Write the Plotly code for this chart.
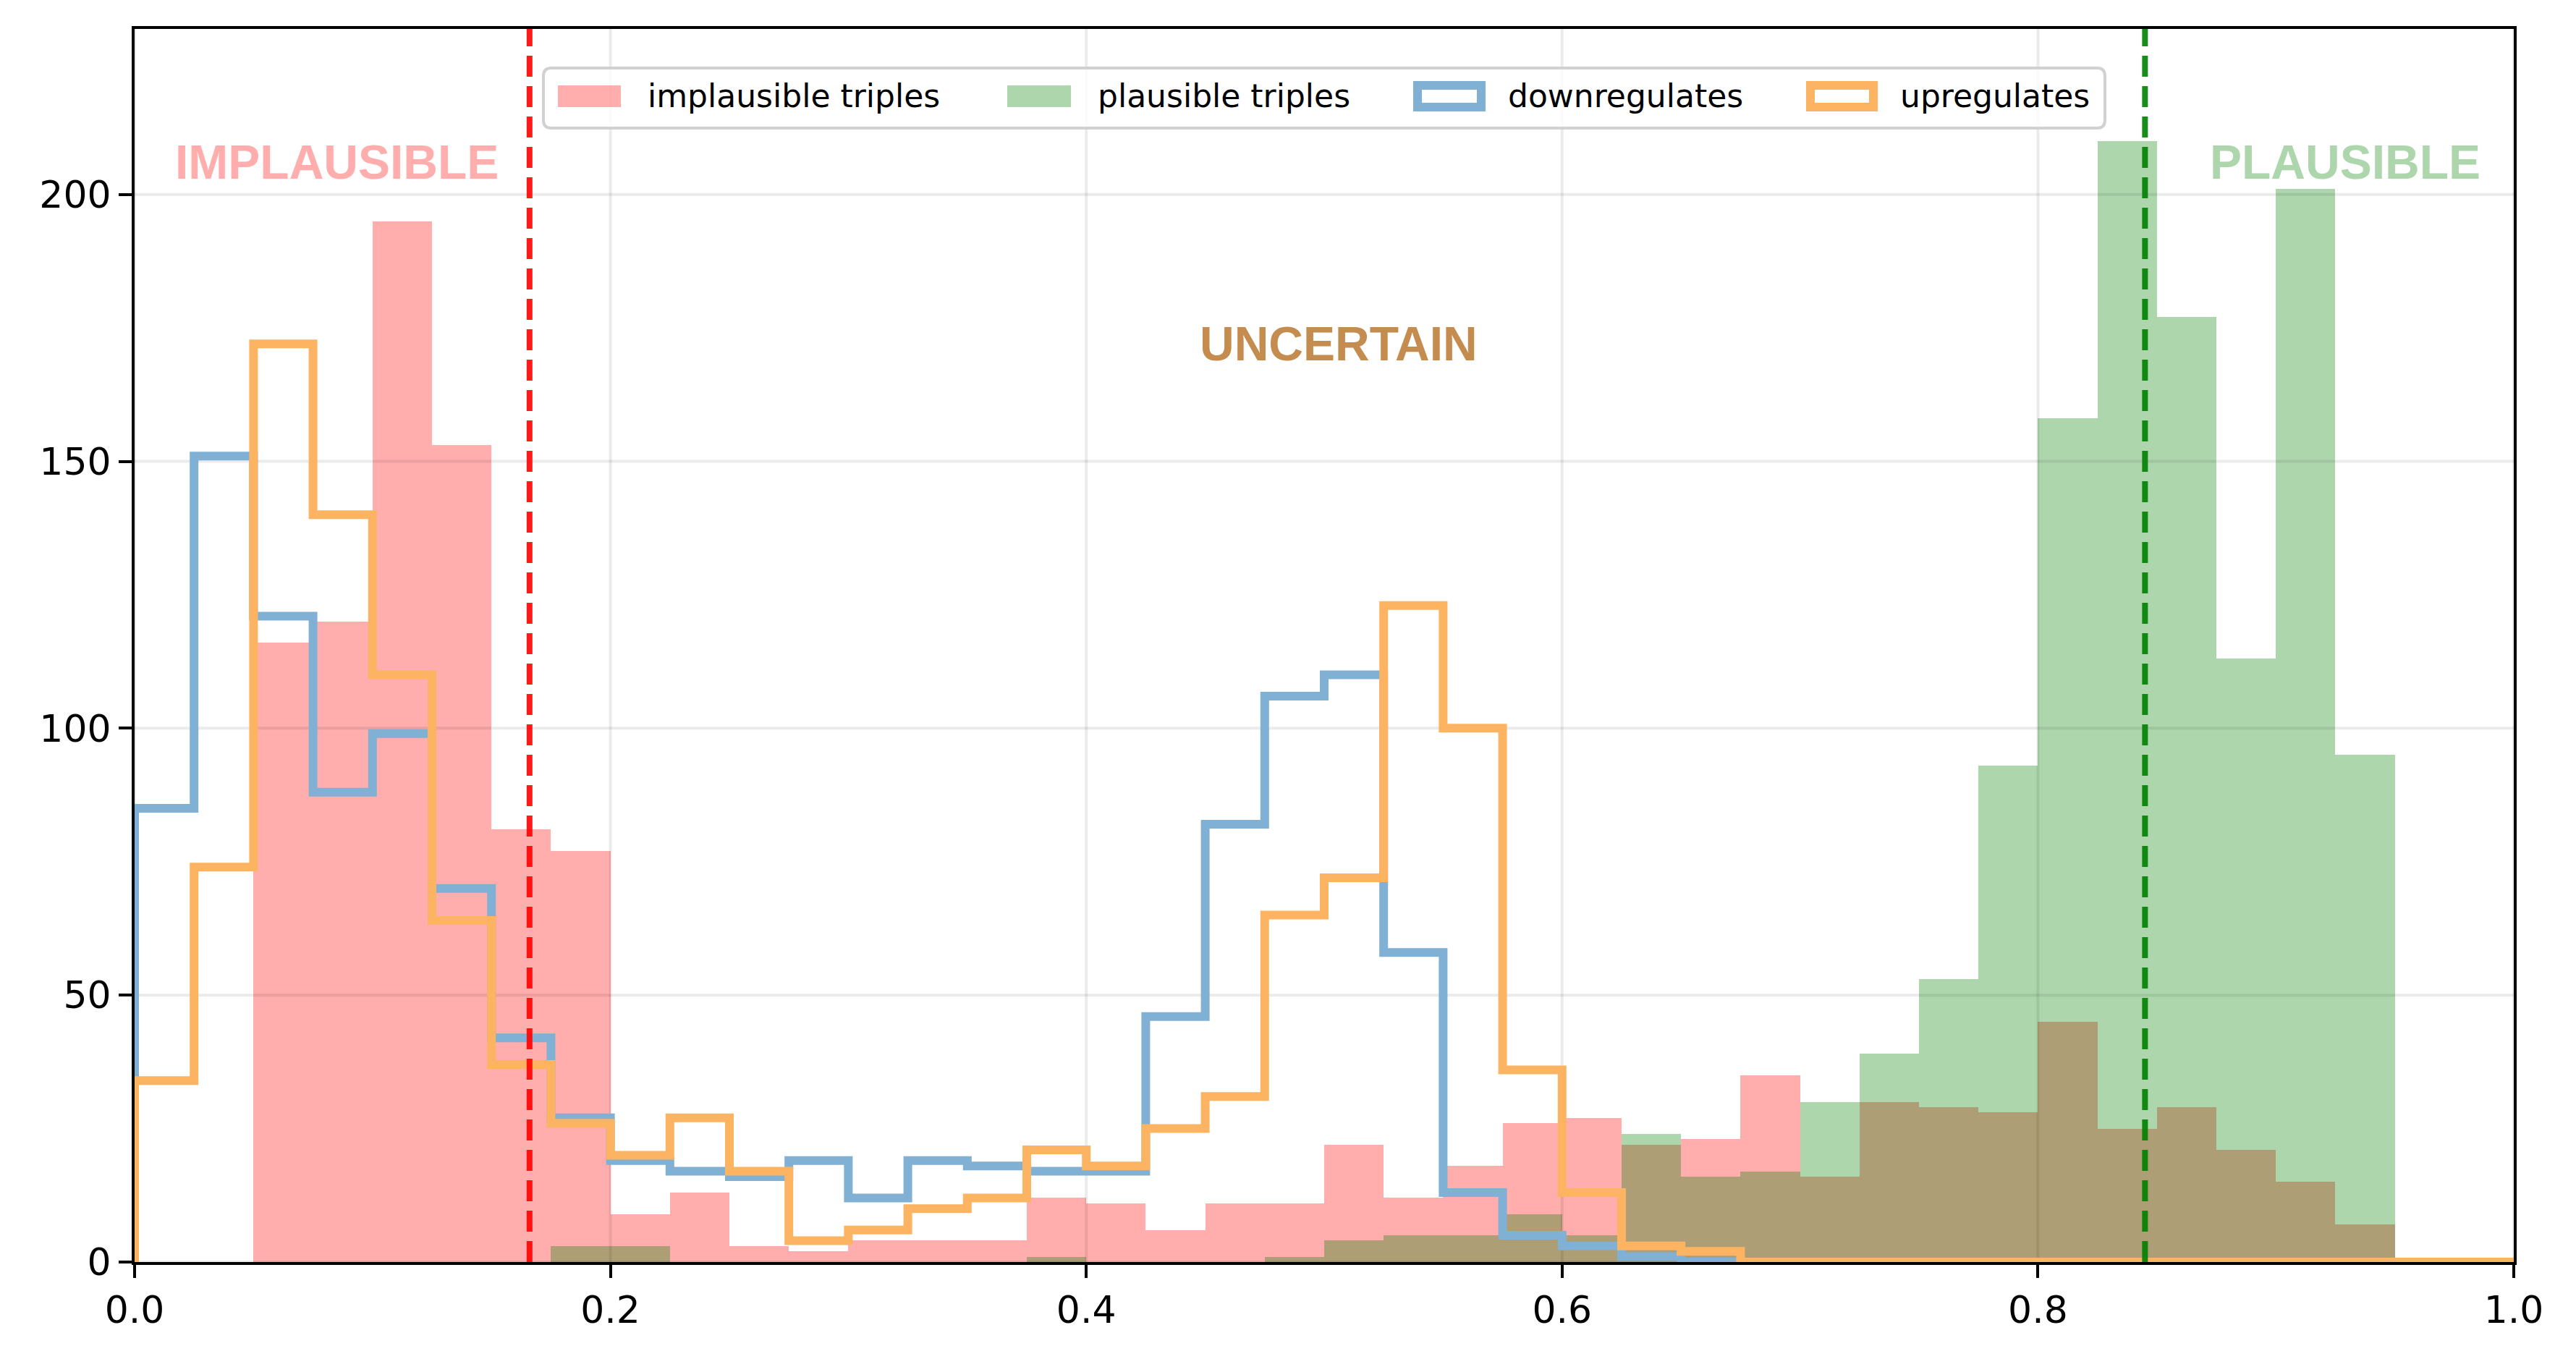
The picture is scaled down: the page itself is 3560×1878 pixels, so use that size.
import plotly.graph_objects as go

# ---------------- data ----------------
bin_width = 0.025
bin_edges = [round(i * bin_width, 3) for i in range(41)]  # 0.0 .. 1.0

implausible_triples = [0, 0, 116, 120, 195, 153, 81, 77, 9, 13,
                       3, 2, 4, 4, 4, 12, 11, 6, 11, 11,
                       22, 12, 18, 26, 27, 22, 23, 35, 16, 30,
                       29, 28, 45, 25, 29, 21, 15, 7, 0, 0]
plausible_triples = [0, 0, 0, 0, 0, 0, 0, 3, 3, 0,
                     0, 0, 0, 0, 0, 1, 0, 0, 0, 1,
                     4, 5, 5, 9, 5, 24, 16, 17, 30, 39,
                     53, 93, 158, 210, 177, 113, 201, 95, 0, 0]
downregulates = [85, 151, 121, 88, 99, 70, 42, 27, 19, 17,
                 16, 19, 12, 19, 18, 17, 17, 46, 82, 106,
                 110, 58, 13, 5, 3, 1, 0, 0, 0, 0,
                 0, 0, 0, 0, 0, 0, 0, 0, 0, 0]
upregulates = [34, 74, 172, 140, 110, 64, 37, 26, 20, 27,
               17, 4, 6, 10, 12, 21, 18, 25, 31, 65,
               72, 123, 100, 36, 13, 3, 2, 0, 0, 0,
               0, 0, 0, 0, 0, 0, 0, 0, 0, 0]

legend_labels = ["implausible triples", "plausible triples", "downregulates", "upregulates"]
x_ticks = [0.0, 0.2, 0.4, 0.6, 0.8, 1.0]
x_tick_labels = ["0.0", "0.2", "0.4", "0.6", "0.8", "1.0"]
y_ticks = [0, 50, 100, 150, 200]
y_tick_labels = ["0", "50", "100", "150", "200"]
implausible_threshold = 0.166
plausible_threshold = 0.845
region_labels = ["IMPLAUSIBLE", "UNCERTAIN", "PLAUSIBLE"]
region_label_x = [0.085, 0.506, 0.929]
region_label_y = [206, 172, 206]
y_max = 231

# ---------------- styles ----------------
W, H = 3560, 1878
ML, MR, MT, MB = 186, 86, 40, 134
PW, PH = W - ML - MR, H - MT - MB

RED_FILL = "rgba(255,0,0,0.32)"
GREEN_FILL = "rgba(0,128,0,0.32)"
BLUE_LINE = "#80B0D3"
ORANGE_LINE = "#FDB462"
LW = 12
TICK_FONT = dict(family="DejaVu Sans", size=52, color="black")
LEG_FONT = dict(family="DejaVu Sans", size=44, color="black")
REGION_COLORS = ["#FFADAD", "#C48C4E", "#ADD6AD"]


def px_x(p):
    return (p - ML) / PW


def px_y(p):
    return (H - MB - p) / PH


centers = [bin_edges[i] + bin_width / 2 for i in range(len(bin_edges) - 1)]

fig = go.Figure()
fig.add_trace(go.Bar(x=centers, y=implausible_triples, width=bin_width,
                     marker=dict(color=RED_FILL, line=dict(width=0)),
                     name=legend_labels[0], showlegend=False, hoverinfo="x+y"))
fig.add_trace(go.Bar(x=centers, y=plausible_triples, width=bin_width,
                     marker=dict(color=GREEN_FILL, line=dict(width=0)),
                     name=legend_labels[1], showlegend=False, hoverinfo="x+y"))

# grid lines drawn above the bars (as in matplotlib) but below the step lines
gx, gy = [], []
for t in x_ticks:
    gx += [t, t, None]
    gy += [0, y_max, None]
for t in y_ticks:
    gx += [0, 1, None]
    gy += [t, t, None]
fig.add_trace(go.Scatter(x=gx, y=gy, mode="lines", line=dict(color="rgba(0,0,0,0.08)", width=4),
                         hoverinfo="skip", showlegend=False))


def step_xy(vals):
    xs = [bin_edges[0]] + bin_edges[:-1] + [bin_edges[-1], bin_edges[-1]]
    ys = [0] + list(vals) + [vals[-1], 0]
    return xs, ys


for vals, col, name in [(downregulates, BLUE_LINE, legend_labels[2]),
                        (upregulates, ORANGE_LINE, legend_labels[3])]:
    xs, ys = step_xy(vals)
    fig.add_trace(go.Scatter(x=xs, y=ys, mode="lines", line=dict(color=col, width=LW, shape="hv"),
                             name=name, showlegend=False))

shapes = []
# threshold lines
for xv, col in [(implausible_threshold, "rgba(255,0,0,0.9)"), (plausible_threshold, "rgba(0,128,0,0.9)")]:
    shapes.append(dict(type="line", xref="x", yref="paper", x0=xv, x1=xv, y0=0, y1=1,
                       line=dict(color=col, width=8, dash="29px,13px"), layer="above"))

# custom legend box (rounded)
bx0, bx1, by0, by1 = px_x(751), px_x(2909), px_y(177), px_y(94)
rx, ry = 11 / PW, 11 / PH
path = (f"M {bx0+rx},{by1} L {bx1-rx},{by1} Q {bx1},{by1} {bx1},{by1-ry} "
        f"L {bx1},{by0+ry} Q {bx1},{by0} {bx1-rx},{by0} L {bx0+rx},{by0} "
        f"Q {bx0},{by0} {bx0},{by0+ry} L {bx0},{by1-ry} Q {bx0},{by1} {bx0+rx},{by1} Z")
shapes.append(dict(type="path", xref="paper", yref="paper", path=path,
                   fillcolor="rgba(255,255,255,0.8)", line=dict(color="rgba(204,204,204,0.9)", width=4),
                   layer="above"))
# legend handles
patch_y0, patch_y1 = px_y(148), px_y(118)
handles = [(771, 858, "fill", RED_FILL), (1392, 1480, "fill", GREEN_FILL),
           (1959, 2047, "edge", BLUE_LINE), (2502, 2589, "edge", ORANGE_LINE)]
for a, b, kind, col in handles:
    if kind == "fill":
        shapes.append(dict(type="rect", xref="paper", yref="paper", x0=px_x(a), x1=px_x(b),
                           y0=patch_y0, y1=patch_y1, fillcolor=col, line=dict(width=0), layer="above"))
    else:
        shapes.append(dict(type="rect", xref="paper", yref="paper", x0=px_x(a), x1=px_x(b),
                           y0=patch_y0, y1=patch_y1, fillcolor="white",
                           line=dict(color=col, width=LW), layer="above"))

annotations = []
text_left = [893, 1515, 2082, 2624]
for txt, xl in zip(legend_labels, text_left):
    annotations.append(dict(text=txt, xref="paper", yref="paper", x=px_x(xl), y=px_y(133),
                            xanchor="left", yanchor="middle", showarrow=False, font=LEG_FONT))
for txt, xv, yv, col in zip(region_labels, region_label_x, region_label_y, REGION_COLORS):
    annotations.append(dict(text=txt, xref="x", yref="y", x=xv, y=yv, xanchor="center", yanchor="middle",
                            showarrow=False,
                            font=dict(family="Liberation Sans, Arial, sans-serif", size=66, color=col,
                                      weight="bold")))

fig.update_layout(
    width=W, height=H, barmode="overlay", bargap=0,
    margin=dict(l=ML, r=MR, t=MT, b=MB, pad=0),
    paper_bgcolor="white", plot_bgcolor="white",
    shapes=shapes, annotations=annotations, showlegend=False,
    xaxis=dict(range=[0, 1], tickvals=x_ticks, ticktext=x_tick_labels, showgrid=False, zeroline=False,
               showline=True, linecolor="black", linewidth=4, mirror=True,
               ticks="outside", ticklen=18, tickwidth=4, tickcolor="black", tickfont=TICK_FONT),
    yaxis=dict(range=[0, y_max], tickvals=y_ticks, ticktext=y_tick_labels, showgrid=False, zeroline=False,
               showline=True, linecolor="black", linewidth=4, mirror=True,
               ticks="outside", ticklen=18, tickwidth=4, tickcolor="black", tickfont=TICK_FONT),
)

fig.write_html("out.html")
